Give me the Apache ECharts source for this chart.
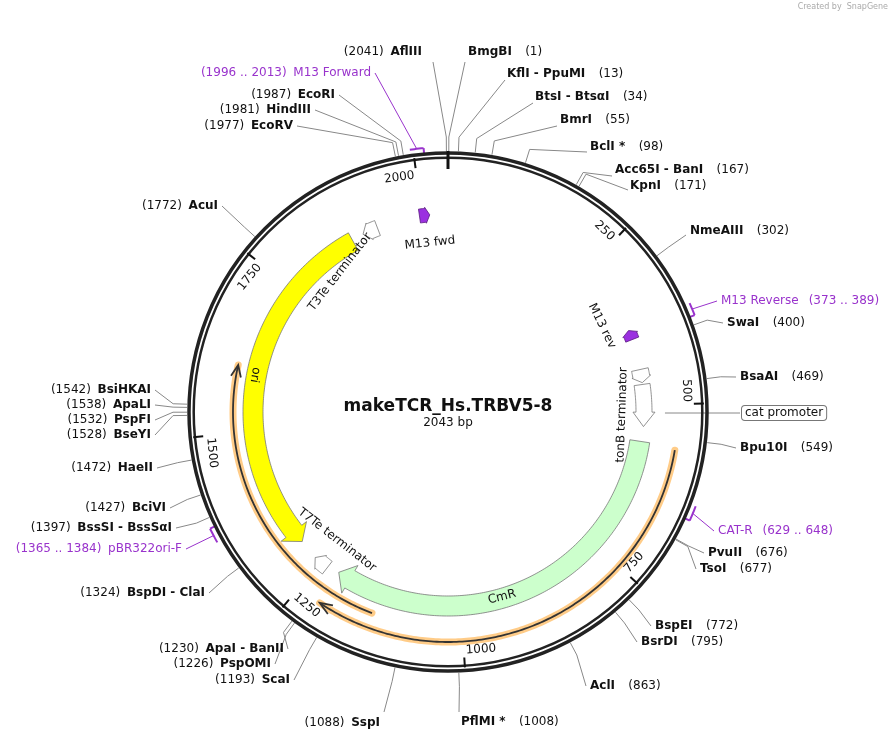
<!DOCTYPE html>
<html><head><meta charset="utf-8">
<script src="https://cdn.jsdelivr.net/npm/echarts@6/dist/echarts.min.js"></script>
<style>html,body{margin:0;padding:0;background:#fff}#c{width:896px;height:742px}</style>
</head><body><div id="c"></div>
<script>
const TOTAL = 2043;
const plasmidName = "makeTCR_Hs.TRBV5-8";
// restriction sites / primers
const siteNames = ["AflIII","BmgBI","KflI - PpuMI","BtsI - BtsαI","BmrI","BclI *","Acc65I - BanI","KpnI","NmeAIII","M13 Reverse","SwaI","BsaAI","Bpu10I","CAT-R","PvuII","TsoI","BspEI","BsrDI","AclI","PflMI *","SspI","ScaI","PspOMI","ApaI - BanII","BspDI - ClaI","pBR322ori-F","BssSI - BssSαI","BciVI","HaeII","BseYI","PspFI","ApaLI","BsiHKAI","AcuI","EcoRV","HindIII","EcoRI","M13 Forward"];
const sitePos = [2041,1,13,34,55,98,167,171,302,373,400,469,549,629,676,677,772,795,863,1008,1088,1193,1226,1230,1324,1365,1397,1427,1472,1528,1532,1538,1542,1772,1977,1981,1987,1996];
const sitePosText = ["(2041)","(1)","(13)","(34)","(55)","(98)","(167)","(171)","(302)","(373 .. 389)","(400)","(469)","(549)","(629 .. 648)","(676)","(677)","(772)","(795)","(863)","(1008)","(1088)","(1193)","(1226)","(1230)","(1324)","(1365 .. 1384)","(1397)","(1427)","(1472)","(1528)","(1532)","(1538)","(1542)","(1772)","(1977)","(1981)","(1987)","(1996 .. 2013)"];
const primerEnd = {"M13 Reverse":389,"CAT-R":648,"pBR322ori-F":1384,"M13 Forward":2013};
// features
const featNames = ["ori","CmR","tonB terminator","tonB terminator b","T3Te terminator","T7Te terminator","M13 fwd","M13 rev","orange1","orange2"];
const featStart = [1296,560,465,440,1898,1236,1996,373,565,1139];
const featEnd   = [1878,1216,535,462,1924,1262,2013,389,1214,1604];
const featDir   = [-1,1,1,1,-1,1,1,-1,1,1];
const tickValues = [250,500,750,1000,1250,1500,1750,2000];

// ---- layout / style (not data) ----
const featR1 = [185,184,188,188,189,189,191,191,230,215];
const featR2 = [205,204,204,205,205,205,205,205,230,215];
const featHead = [22,22,24,10,12,12,7,7,18,18];
const featFlare = [6,6,3,1,1,1,1,1,0,0];
const featFill = ["#ffff00","#ccffcc","#ffffff","#ffffff","#ffffff","#ffffff","#9b30e0","#9b30e0","line","line"];
const featLabel = [
 {t:"ori",x:255,y:375,r:-100},{t:"CmR",x:502,y:597,r:14},{t:"tonB terminator",x:622,y:415,r:88},null,
 {t:"T3Te terminator",x:340,y:272,r:52},{t:"T7Te terminator",x:337,y:540,r:-38},
 {t:"M13 fwd",x:430,y:243,r:6},{t:"M13 rev",x:602,y:326,r:-64},null,null];
const labX = [422,468,507,535,560,590,615,630,690,721,727,740,740,718,708,700,655,641,590,461,380,290,271,284,205,182,172,166,153,151,151,151,151,218,293,311,335,371];
const labY = [52,52,74,97,120,147,170,186,231,301,323,377,448,531,553,569,626,642,686,722,723,680,664,649,593,549,528,508,468,435,420,405,390,206,126,110,95,73];
const labSide = [-1,1,1,1,1,1,1,1,1,1,1,1,1,1,1,1,1,1,1,1,-1,-1,-1,-1,-1,-1,-1,-1,-1,-1,-1,-1,-1,-1,-1,-1,-1,-1];
const lineEnd = [[433,62],[465,62],[505,80],[533,103],[557,126],[587,152],[612,176],[628,190],[686,235],[717,301],[723,323],[736,377],[736,448],[714,531],[704,553],[696,569],[651,626],[637,642],[586,686],[459,712],[384,712],[294,680],[275,664],[288,649],[209,593],[186,549],[176,528],[170,508],[157,468],[155,435],[155,420],[155,405],[155,390],[222,206],[297,126],[315,110],[339,95],[375,73]];
const FONT = "DejaVu Sans, Verdana, sans-serif";
const PURPLE = "#9933cc";

const chart = echarts.init(document.getElementById('c'));
function deg(p){return p/TOTAL*360;}
function arc(api,r,a0,a1,n){const pts=[];for(let i=0;i<=n;i++){const a=a0+(a1-a0)*i/n;pts.push(api.coord([r,a]));}return pts;}

function arrowPoly(api,i){
  const s=featStart[i],e=featEnd[i],r1=featR1[i],r2=featR2[i],h=featHead[i],dir=featDir[i];
  const rm=(r1+r2)/2, fl=featFlare[i];
  const n=Math.max(4,Math.ceil((e-s)/4));
  let pts;
  if(dir>0){
    const he=e-h;
    pts=arc(api,r2,s,he,n).concat([api.coord([r2+fl,he]),api.coord([rm,e]),api.coord([r1-fl,he])]).concat(arc(api,r1,he,s,n));
  } else {
    const hs=s+h;
    pts=arc(api,r2,e,hs,n).concat([api.coord([r2+fl,hs]),api.coord([rm,s]),api.coord([r1-fl,hs])]).concat(arc(api,r1,hs,e,n));
  }
  return pts;
}

const series = [];
series.push({type:'custom',coordinateSystem:'polar',silent:true,data:[[0,0]],z:5,
 renderItem:(p,api)=>{const c=api.coord([0,0]);return {type:'group',children:[
  {type:'circle',shape:{cx:c[0],cy:c[1],r:259},style:{fill:null,stroke:'#222',lineWidth:3.5}},
  {type:'circle',shape:{cx:c[0],cy:c[1],r:254.3},style:{fill:null,stroke:'#222',lineWidth:2.5}}]};}});
series.push({type:'custom',coordinateSystem:'polar',silent:true,z:6,
 data:tickValues.map(v=>[250,v]).concat([[0,0]]),
 renderItem:(p,api)=>{const v=api.value(1);
  if(p.dataIndex===tickValues.length){const a=api.coord([261,0]),b=api.coord([243,0]);
   return {type:'line',shape:{x1:a[0],y1:a[1],x2:b[0],y2:b[1]},style:{stroke:'#111',lineWidth:3}};}
  const a=api.coord([256,v]),b=api.coord([246,v]);const th=deg(v);const top=(th<90||th>270);
  const rot=top?-th*Math.PI/180:-(th-180)*Math.PI/180;
  const t=api.coord([245,v]);
  return {type:'group',children:[
   {type:'line',shape:{x1:a[0],y1:a[1],x2:b[0],y2:b[1]},style:{stroke:'#111',lineWidth:2}},
   {type:'text',x:t[0],y:t[1],rotation:rot,style:{text:String(v),x:top?-2:2,y:0,align:top?'right':'left',verticalAlign:top?'top':'bottom',font:'12px '+FONT,fill:'#111'}}]};}});
series.push({type:'custom',coordinateSystem:'polar',silent:true,z:4,
 data:featNames.map((n,i)=>[featR2[i],featStart[i]]),
 renderItem:(p,api)=>{const i=p.dataIndex;const ch=[];
  if(featFill[i]==='line'){
   const r=featR1[i],s=featStart[i],e=featEnd[i],h=featHead[i];
   const pts=arc(api,r,s,e,Math.ceil((e-s)/4));
   ch.push({type:'polyline',shape:{points:pts},style:{stroke:'#ffcc88',lineWidth:7,fill:null,lineCap:'round'}});
   ch.push({type:'polyline',shape:{points:arc(api,r,s,e-2,Math.ceil((e-s)/4))},style:{stroke:'#333',lineWidth:1.8,fill:null}});
   const a=api.coord([r+5,e-h]),b=api.coord([r,e]),c=api.coord([r-5,e-h]);
   ch.push({type:'polyline',shape:{points:[a,b,c]},style:{stroke:'#333',lineWidth:1.8,fill:null}});
  } else {
   ch.push({type:'polygon',shape:{points:arrowPoly(api,i)},style:{fill:featFill[i],stroke:featFill[i]==='#9b30e0'?'#5a1a80':'#777',lineWidth:0.8}});
  }
  const L=featLabel[i];
  if(L) ch.push({type:'text',x:L.x,y:L.y,rotation:L.r*Math.PI/180,style:{text:L.t,x:0,y:0,align:'center',verticalAlign:'middle',font:'12px '+FONT,fill:'#111'}});
  return {type:'group',children:ch};}});
series.push({type:'custom',coordinateSystem:'polar',silent:true,z:3,
 data:siteNames.map((n,i)=>[260,sitePos[i]]),
 renderItem:(p,api)=>{const i=p.dataIndex;const pos=api.value(1);const ch=[];
  const isPrimer=primerEnd[siteNames[i]]!==undefined;
  if(isPrimer){
   const e=primerEnd[siteNames[i]];
   ch.push({type:'polyline',shape:{points:arc(api,265,pos,e,6)},style:{stroke:PURPLE,lineWidth:2,fill:null}});
   const a=api.coord([258,e]),b=api.coord([265,e]);
   ch.push({type:'line',shape:{x1:a[0],y1:a[1],x2:b[0],y2:b[1]},style:{stroke:PURPLE,lineWidth:2}});
   const m=api.coord([265,(pos+e)/2]);
   ch.push({type:'line',shape:{x1:m[0],y1:m[1],x2:lineEnd[i][0],y2:lineEnd[i][1]},style:{stroke:PURPLE,lineWidth:1}});
  } else {
   const a=api.coord([261,pos]),b=api.coord([275,pos]);
   ch.push({type:'polyline',shape:{points:[a,b,lineEnd[i]]},style:{stroke:'#888',lineWidth:1,fill:null}});
  }
  const right=labSide[i]>0;
  let text;
  if(isPrimer) text=right?`{p|${siteNames[i]}}   {p|${sitePosText[i]}}`:`{p|${sitePosText[i]}}  {p|${siteNames[i]}}`;
  else text=right?`{b|${siteNames[i]}}    {n|${sitePosText[i]}}`:`{n|${sitePosText[i]}}  {b|${siteNames[i]}}`;
  ch.push({type:'text',x:labX[i],y:labY[i],style:{text:text,x:0,y:0,align:right?'left':'right',verticalAlign:'middle',
   rich:{b:{font:'bold 12px '+FONT,fill:'#111'},n:{font:'12px '+FONT,fill:'#111'},p:{font:'12px '+FONT,fill:PURPLE}}}});
  return {type:'group',children:ch};}});
series.push({type:'custom',coordinateSystem:'polar',silent:true,z:3,data:[[217,505]],
 renderItem:(p,api)=>{const a=api.coord([217,api.value(1)]);return {type:'group',children:[
  {type:'line',shape:{x1:a[0],y1:413,x2:740,y2:413},style:{stroke:'#888',lineWidth:1}},
  {type:'text',x:742,y:413,style:{text:'cat promoter',x:0,y:0,align:'left',verticalAlign:'middle',font:'12px '+FONT,fill:'#111',
   backgroundColor:'#fff',borderColor:'#777',borderWidth:1,borderRadius:3,padding:[1,3,1,3]}}]};}});

chart.setOption({
 animation:false,
 polar:{center:[448,412],radius:300},
 radiusAxis:{type:'value',min:0,max:300,show:false,axisLine:{show:false},splitLine:{show:false},axisLabel:{show:false},axisTick:{show:false}},
 angleAxis:{type:'value',min:0,max:TOTAL,startAngle:90,clockwise:true,show:false,axisLine:{show:false},splitLine:{show:false},axisLabel:{show:false},axisTick:{show:false}},
 graphic:[
  {type:'text',left:'center',top:398,style:{text:plasmidName,font:'bold 17px '+FONT,fill:'#111'}},
  {type:'text',left:'center',top:417,style:{text:'2043 bp',font:'12px '+FONT,fill:'#111'}},
  {type:'text',right:8,top:3,style:{text:'Created by  SnapGene',font:'8px '+FONT,fill:'#aaa'}}
 ],
 series:series
});
</script></body></html>
